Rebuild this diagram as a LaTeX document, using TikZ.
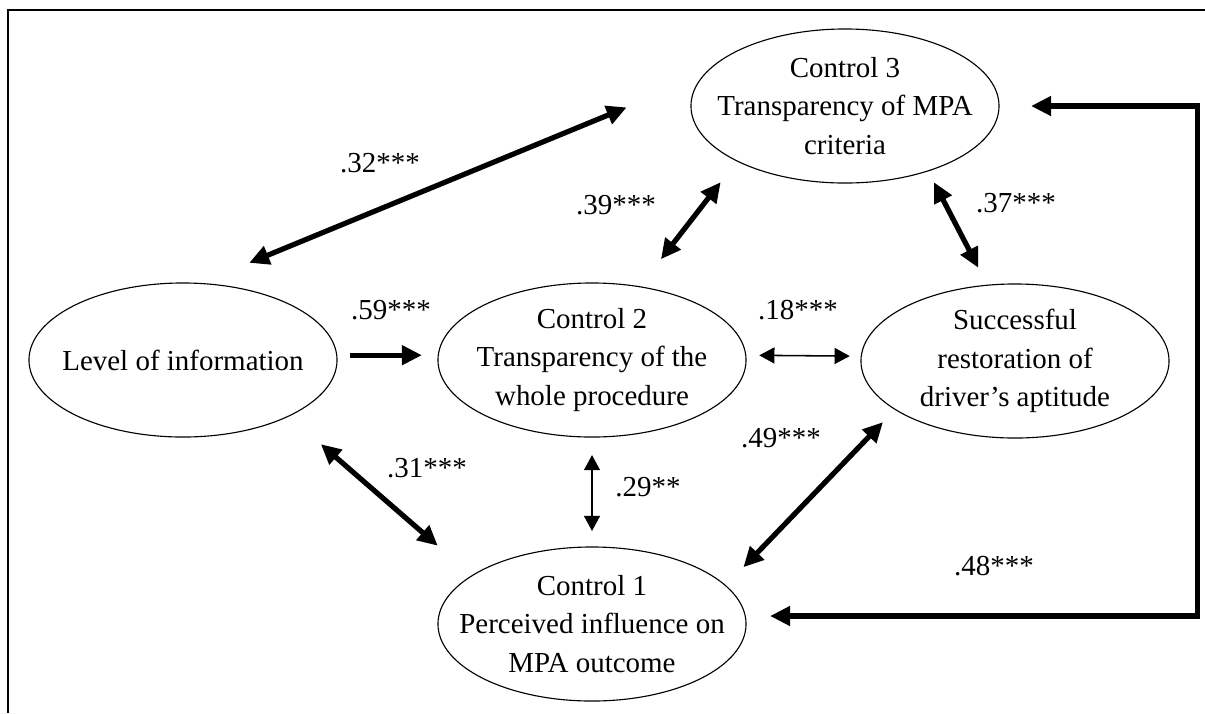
\documentclass[tikz,border=0pt]{standalone}
\usepackage{fontspec}
\setmainfont{Liberation Serif}
\usetikzlibrary{shapes.geometric}
\usetikzlibrary{arrows.meta}

\begin{document}
\begin{tikzpicture}[x=0.025cm, y=-0.025cm,
  oval/.style={ellipse, draw, line width=0.8pt, minimum width=7.7cm, minimum height=3.85cm, inner sep=0pt, outer sep=0pt},
  txt/.style={align=center, font=\fontsize{20.6}{27.4}\selectfont, inner sep=0pt},
  coef/.style={font=\fontsize{20.6}{24}\selectfont, inner sep=0pt},
  heavy/.style={line width=3.7pt, {Triangle[length=0.5cm,width=0.47cm]}-{Triangle[length=0.5cm,width=0.47cm]}},
  light/.style={line width=1.1pt, {Triangle[length=0.38cm,width=0.4cm]}-{Triangle[length=0.38cm,width=0.4cm]}}]
  \useasboundingbox (0,0) rectangle (1205,713);
  % frame
  \draw[line width=1.1pt] (8,713) -- (8,10) -- (1205,10);

  \node[oval] (ctrlthree) at (845,106) {};
  \node[oval] (info) at (183,360) {};
  \node[oval] (ctrltwo) at (592,360) {};
  \node[oval] (restore) at (1015,361) {};
  \node[oval] (ctrlone) at (592,624) {};
  \node[txt] (ctrlthreetxt) at (ctrlthree) {Control 3\\Transparency of MPA\\criteria};
  \node[txt] (infotxt) at (info) {Level of information};
  \node[txt] (ctrltwotxt) at (ctrltwo) {Control 2\\Transparency of the\\whole procedure};
  \node[txt] (restoretxt) at (restore) {Successful\\restoration of\\driver’s aptitude};
  \node[txt] (ctrlonetxt) at (ctrlone) {Control 1\\Perceived influence on\\MPA outcome};

  \foreach \from/\to/\s/\e in {info.78/ctrlthree.168/1.35/2.07, ctrltwo.57/ctrlthree.207/0.87/0.67,
      ctrlthree.322/restore.110/0.32/0.49, info.332/ctrlone.158/1.07/1.14, ctrlone.16/restore.202/0.64/0.44}
    \draw[heavy, shorten <=\s cm, shorten >=\e cm] (\from) -- (\to);
  \draw[line width=3.7pt, -{Triangle[length=0.5cm,width=0.47cm]}, shorten <=0.33cm, shorten >=0.4cm]
    ([yshift=0.12cm]info.east) -- ([yshift=0.12cm]ctrltwo.west);
  \draw[light, shorten <=0.33cm, shorten >=0.28cm] ([yshift=0.12cm]ctrltwo.east) -- ([yshift=0.12cm]restore.west);
  \draw[light, shorten <=0.45cm, shorten >=0.4cm] (ctrltwo.south) -- (ctrlone.north);
  \draw[heavy] ([xshift=0.8cm]ctrlthree.east) -| ([xshift=11.275cm,yshift=0.2cm]ctrlone.east)
    -- ([xshift=0.6cm,yshift=0.2cm]ctrlone.east);

  \node[coef] (c32) at (380,163) {.32***};
  \node[coef] (c39) at (616,205) {.39***};
  \node[coef] (c37) at (1016,203) {.37***};
  \node[coef] (c59) at (391,310) {.59***};
  \node[coef] (c18) at (798,310) {.18***};
  \node[coef] (c31) at (427,468) {.31***};
  \node[coef] (c29) at (648,487) {.29**};
  \node[coef] (c49) at (781,438) {.49***};
  \node[coef] (c48) at (994,566) {.48***};
\end{tikzpicture}
\end{document}
